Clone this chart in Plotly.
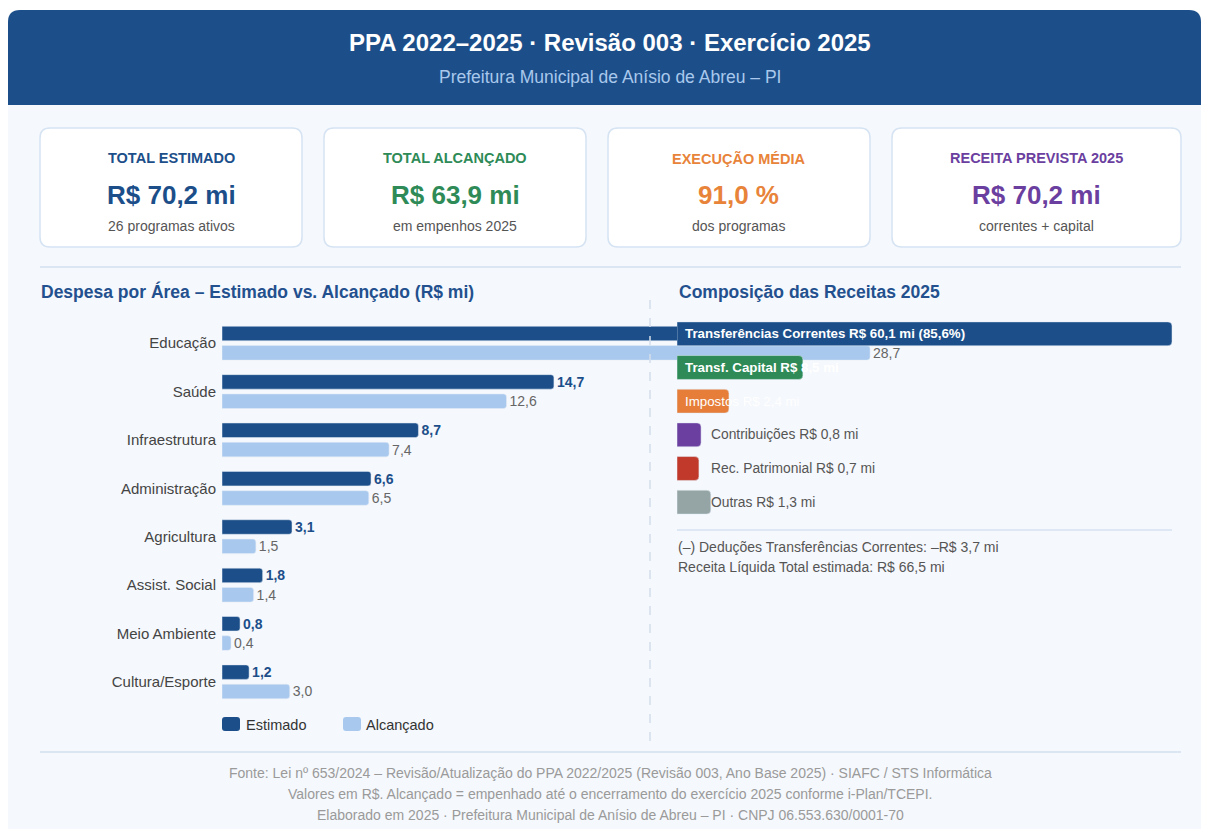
import plotly.graph_objects as go

# ---------------- DATA ----------------
categorias = ["Educação", "Saúde", "Infraestrutura", "Administração",
              "Agricultura", "Assist. Social", "Meio Ambiente", "Cultura/Esporte"]
estimado = [33.3, 14.7, 8.7, 6.6, 3.1, 1.8, 0.8, 1.2]
alcancado = [28.7, 12.6, 7.4, 6.5, 1.5, 1.4, 0.4, 3.0]

receitas_nomes = ["Transferências Correntes", "Transf. Capital", "Impostos",
                  "Contribuições", "Rec. Patrimonial", "Outras"]
receitas_valores = [60.1, 8.5, 2.4, 0.8, 0.7, 1.3]
receitas_cores = ["#1c4f8a", "#2e8b57", "#e67e3a", "#6b3fa0", "#c0392b", "#95a5a6"]
receita_prevista = 70.2
deducoes = 3.7
receita_liquida = 66.5

kpi_titulos = ["TOTAL ESTIMADO", "TOTAL ALCANÇADO", "EXECUÇÃO MÉDIA", "RECEITA PREVISTA 2025"]
kpi_valores = ["R$ 70,2 mi", "R$ 63,9 mi", "91,0 %", "R$ 70,2 mi"]
kpi_subs = ["26 programas ativos", "em empenhos 2025", "dos programas", "correntes + capital"]
kpi_cores = ["#1c4f8a", "#2e8b57", "#e8833a", "#6b3fa0"]

titulo = "PPA 2022–2025 · Revisão 003 · Exercício 2025"
subtitulo = "Prefeitura Municipal de Anísio de Abreu – PI"
rodape = [
    "Fonte: Lei nº 653/2024 – Revisão/Atualização do PPA 2022/2025 (Revisão 003, Ano Base 2025) · SIAFC / STS Informática",
    "Valores em R$. Alcançado = empenhado até o encerramento do exercício 2025 conforme i-Plan/TCEPI.",
    "Elaborado em 2025 · Prefeitura Municipal de Anísio de Abreu – PI · CNPJ 06.553.630/0001-70",
]

# ---------------- LAYOUT HELPERS ----------------
W, H = 1193, 821
OFF = 8
FONT = "Liberation Sans, Arial, sans-serif"
BLUE = "#1c4f8a"
TITLE_BLUE = "#23508e"
RIGHT = OFF + W


def X(x):
    return (x - OFF) / W


def Y(y):
    return 1 - (y - OFF) / H


def fmt(v):
    return f"{v:.1f}".replace(".", ",")


def rrect(x0, y0, x1, y1, r, top_only=False):
    p = f"M {X(x0 + r)},{Y(y0)} L {X(x1 - r)},{Y(y0)} Q {X(x1)},{Y(y0)} {X(x1)},{Y(y0 + r)} "
    if top_only:
        p += f"L {X(x1)},{Y(y1)} L {X(x0)},{Y(y1)} "
    else:
        p += (f"L {X(x1)},{Y(y1 - r)} Q {X(x1)},{Y(y1)} {X(x1 - r)},{Y(y1)} "
              f"L {X(x0 + r)},{Y(y1)} Q {X(x0)},{Y(y1)} {X(x0)},{Y(y1 - r)} ")
    p += f"L {X(x0)},{Y(y0 + r)} Q {X(x0)},{Y(y0)} {X(x0 + r)},{Y(y0)} Z"
    return p


shapes = []
annotations = []


def text(x, y, s, size=12, color="#555", bold=False, anchor="center"):
    annotations.append(dict(
        xref="paper", yref="paper", x=X(x), y=Y(y), xanchor=anchor, yanchor="middle",
        text=f"<b>{s}</b>" if bold else s, showarrow=False,
        font=dict(family=FONT, size=size, color=color)))


# background container + header
shapes.append(dict(type="path", path=rrect(8, 10, RIGHT, 829, 12, top_only=True),
                   xref="paper", yref="paper", fillcolor="#f5f8fc", line=dict(width=0), layer="below"))
shapes.append(dict(type="path", path=rrect(8, 10, RIGHT, 105, 12, top_only=True),
                   xref="paper", yref="paper", fillcolor=BLUE, line=dict(width=0), layer="below"))
text(610, 42, titulo, size=24, color="white", bold=True)
text(610, 77, subtitulo, size=17.5, color="#a9c8ec")

# KPI cards
cards = [(40, 302), (324, 586), (608, 870), (892, 1181)]
for (x0, x1), t, v, s, c in zip(cards, kpi_titulos, kpi_valores, kpi_subs, kpi_cores):
    shapes.append(dict(type="path", path=rrect(x0, 128, x1, 247, 10), xref="paper", yref="paper",
                       fillcolor="white", line=dict(color="#d5e3f3", width=1.5), layer="below"))
    cx = (x0 + x1) / 2
    text(cx, 158, t, size=14.5, color=c, bold=True)
    text(cx, 195, v, size=26, color=c, bold=True)
    text(cx, 226, s, size=14, color="#555")

# separators
shapes.append(dict(type="line", x0=X(40), x1=X(1181), y0=Y(267), y1=Y(267), xref="paper", yref="paper",
                   line=dict(color="#dce6f2", width=2), layer="below"))
shapes.append(dict(type="line", x0=X(40), x1=X(1181), y0=Y(752), y1=Y(752), xref="paper", yref="paper",
                   line=dict(color="#dce6f2", width=2), layer="below"))
shapes.append(dict(type="line", x0=X(650), x1=X(650), y0=Y(300), y1=Y(745), xref="paper", yref="paper",
                   line=dict(color="#d3deea", width=1.5, dash="dash"), layer="above"))

# panel titles
text(38.5, 292, "Despesa por Área – Estimado vs. Alcançado (R$ mi)", size=17.5, color=TITLE_BLUE, bold=True, anchor="left")
text(676.5, 292, "Composição das Receitas 2025", size=17.5, color=TITLE_BLUE, bold=True, anchor="left")

# custom legend (left chart)
shapes.append(dict(type="path", path=rrect(222, 717, 240, 731, 3), xref="paper", yref="paper",
                   fillcolor=BLUE, line=dict(width=0)))
text(244, 725, "Estimado", size=14.5, color="#333", anchor="left")
shapes.append(dict(type="path", path=rrect(343, 717, 361, 731, 3), xref="paper", yref="paper",
                   fillcolor="#a8c8ee", line=dict(width=0)))
text(364, 725, "Alcançado", size=14.5, color="#333", anchor="left")

# right panel notes
shapes.append(dict(type="line", x0=X(677), x1=X(1172), y0=Y(530), y1=Y(530), xref="paper", yref="paper",
                   line=dict(color="#d6e2f2", width=1.5), layer="below"))
text(675.5, 547, f"(–) Deduções Transferências Correntes: –R$ {fmt(deducoes)} mi", size=14, color="#555", anchor="left")
text(675.5, 567, f"Receita Líquida Total estimada: R$ {fmt(receita_liquida)} mi", size=14, color="#555", anchor="left")

# footer
for i, line in enumerate(rodape):
    text(610, 773 + 21 * i, line, size=14, color="#9a9a9a")

# ---------------- TRACES ----------------
fig = go.Figure()
fig.add_trace(go.Bar(
    y=categorias, x=estimado, orientation="h", name="Estimado",
    offset=-0.35, width=0.30, marker=dict(color=BLUE, cornerradius=3),
    texttemplate="<b>%{x:.1f}</b>", textposition="outside", constraintext="none",
    textfont=dict(family=FONT, size=14, color=BLUE), cliponaxis=False,
    xaxis="x", yaxis="y"))
fig.add_trace(go.Bar(
    y=categorias, x=alcancado, orientation="h", name="Alcançado",
    offset=0.05, width=0.30, marker=dict(color="#a8c8ee", cornerradius=3),
    texttemplate="%{x:.1f}", textposition="outside", constraintext="none",
    textfont=dict(family=FONT, size=14, color="#666"), cliponaxis=False,
    xaxis="x", yaxis="y"))

# revenue composition bars (compressed display scale so small items stay visible)
receitas_disp = [v ** 0.7 for v in receitas_valores]
fig.add_trace(go.Bar(
    y=receitas_nomes, x=receitas_disp, orientation="h", width=0.71,
    marker=dict(color=receitas_cores, cornerradius=4),
    customdata=receitas_valores, hovertemplate="%{y}: R$ %{customdata} mi<extra></extra>",
    xaxis="x2", yaxis="y2"))

for i, (n, v) in enumerate(zip(receitas_nomes, receitas_valores)):
    if i == 0:
        lbl = f"<b>{n} R$ {fmt(v)} mi ({fmt(v / receita_prevista * 100)}%)</b>"
        annotations.append(dict(xref="x2", yref="y2", x=0, y=n, xanchor="left", yanchor="middle",
                                xshift=6, text=lbl, showarrow=False,
                                font=dict(family=FONT, size=13.3, color="white")))
    elif i == 1:
        lbl = f"<b>{n} R$ {fmt(v)} mi</b>"
        annotations.append(dict(xref="x2", yref="y2", x=0, y=n, xanchor="left", yanchor="middle",
                                xshift=6, text=lbl, showarrow=False,
                                font=dict(family=FONT, size=13.3, color="white")))
    elif i == 2:
        lbl = f"{n} R$ {fmt(v)} mi"
        annotations.append(dict(xref="x2", yref="y2", x=0, y=n, xanchor="left", yanchor="middle",
                                xshift=6, text=lbl, showarrow=False,
                                font=dict(family=FONT, size=13.3, color="white")))
    else:
        lbl = f"{n} R$ {fmt(v)} mi"
        annotations.append(dict(xref="x2", yref="y2", x=0, y=n, xanchor="left",
                                yanchor="middle", xshift=32, text=lbl, showarrow=False,
                                font=dict(family=FONT, size=13.8, color="#555")))

disp_scale = 495 / receitas_disp[0]  # px per display unit

fig.update_layout(
    width=W, height=H, margin=dict(l=0, r=0, t=0, b=0),
    paper_bgcolor="white", plot_bgcolor="rgba(0,0,0,0)",
    font=dict(family=FONT, size=12, color="#444"),
    separators=",.", showlegend=False, barmode="overlay",
    shapes=shapes, annotations=annotations,
    xaxis=dict(domain=[X(222), X(1181)], range=[0, (1181 - 222) / 22.58],
               showgrid=False, zeroline=False, showticklabels=False, showline=False, fixedrange=True),
    yaxis=dict(domain=[Y(706), Y(319)], type="category", autorange="reversed",
               showgrid=False, zeroline=False, showline=False, ticks="",
               ticklabelstandoff=5, tickfont=dict(family=FONT, size=15, color="#444")),
    xaxis2=dict(domain=[X(677), X(1181)], range=[0, (1181 - 677) / disp_scale], anchor="y2",
                showgrid=False, zeroline=False, showticklabels=False, showline=False),
    yaxis2=dict(domain=[Y(519), Y(317)], type="category", autorange="reversed", anchor="x2",
                showgrid=False, zeroline=False, showticklabels=False, showline=False, ticks=""),
)

fig.write_html("out.html")
